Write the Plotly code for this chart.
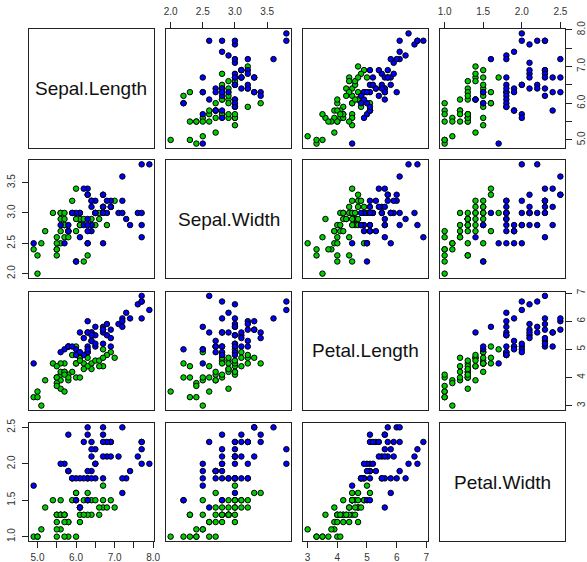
import plotly.graph_objects as go

var_names = ["Sepal.Length", "Sepal.Width", "Petal.Length", "Petal.Width"]

# Iris versicolor
vers_sl = [7.0,6.4,6.9,5.5,6.5,5.7,6.3,4.9,6.6,5.2,5.0,5.9,6.0,6.1,5.6,6.7,5.6,5.8,6.2,5.6,5.9,6.1,6.3,6.1,6.4,6.6,6.8,6.7,6.0,5.7,5.5,5.5,5.8,6.0,5.4,6.0,6.7,6.3,5.6,5.5,5.5,6.1,5.8,5.0,5.6,5.7,5.7,6.2,5.1,5.7]
vers_sw = [3.2,3.2,3.1,2.3,2.8,2.8,3.3,2.4,2.9,2.7,2.0,3.0,2.2,2.9,2.9,3.1,3.0,2.7,2.2,2.5,3.2,2.8,2.5,2.8,2.9,3.0,2.8,3.0,2.9,2.6,2.4,2.4,2.7,2.7,3.0,3.4,3.1,2.3,3.0,2.5,2.6,3.0,2.6,2.3,2.7,3.0,2.9,2.9,2.5,2.8]
vers_pl = [4.7,4.5,4.9,4.0,4.6,4.5,4.7,3.3,4.6,3.9,3.5,4.2,4.0,4.7,3.6,4.4,4.5,4.1,4.5,3.9,4.8,4.0,4.9,4.7,4.3,4.4,4.8,5.0,4.5,3.5,3.8,3.7,3.9,5.1,4.5,4.5,4.7,4.4,4.1,4.0,4.4,4.6,4.0,3.3,4.2,4.2,4.2,4.3,3.0,4.1]
vers_pw = [1.4,1.5,1.5,1.3,1.5,1.3,1.6,1.0,1.3,1.4,1.0,1.5,1.0,1.4,1.3,1.4,1.5,1.0,1.5,1.1,1.8,1.3,1.5,1.2,1.3,1.4,1.4,1.7,1.5,1.0,1.1,1.0,1.2,1.6,1.5,1.6,1.5,1.3,1.3,1.3,1.2,1.4,1.2,1.0,1.3,1.2,1.3,1.3,1.1,1.3]

# Iris virginica
virg_sl = [6.3,5.8,7.1,6.3,6.5,7.6,4.9,7.3,6.7,7.2,6.5,6.4,6.8,5.7,5.8,6.4,6.5,7.7,7.7,6.0,6.9,5.6,7.7,6.3,6.7,7.2,6.2,6.1,6.4,7.2,7.4,7.9,6.4,6.3,6.1,7.7,6.3,6.4,6.0,6.9,6.7,6.9,5.8,6.8,6.7,6.7,6.3,6.5,6.2,5.9]
virg_sw = [3.3,2.7,3.0,2.9,3.0,3.0,2.5,2.9,2.5,3.6,3.2,2.7,3.0,2.5,2.8,3.2,3.0,3.8,2.6,2.2,3.2,2.8,2.8,2.7,3.3,3.2,2.8,3.0,2.8,3.0,2.8,3.8,2.8,2.8,2.6,3.0,3.4,3.1,3.0,3.1,3.1,3.1,2.7,3.2,3.3,3.0,2.5,3.0,3.4,3.0]
virg_pl = [6.0,5.1,5.9,5.6,5.8,6.6,4.5,6.3,5.8,6.1,5.1,5.3,5.5,5.0,5.1,5.3,5.5,6.7,6.9,5.0,5.7,4.9,6.7,4.9,5.7,6.0,4.8,4.9,5.6,5.8,6.1,6.4,5.6,5.1,5.6,6.1,5.6,5.5,4.8,5.4,5.6,5.1,5.1,5.9,5.7,5.2,5.0,5.2,5.4,5.1]
virg_pw = [2.5,1.9,2.1,1.8,2.2,2.1,1.7,1.8,1.8,2.5,2.0,1.9,2.1,2.0,2.4,2.3,1.8,2.2,2.3,1.5,2.3,2.0,2.0,1.8,2.1,1.8,1.8,1.8,2.1,1.6,1.9,2.0,2.2,1.5,1.4,2.3,2.4,1.8,1.8,2.1,2.4,2.3,1.9,2.3,2.5,2.3,1.9,2.0,2.3,1.8]

tick_vals = [
    [5.0, 5.5, 6.0, 6.5, 7.0, 7.5, 8.0],
    [2.0, 2.5, 3.0, 3.5],
    [3, 4, 5, 6, 7],
    [1.0, 1.5, 2.0, 2.5],
]
tick_text = [
    ["5.0", "", "6.0", "", "7.0", "", "8.0"],
    ["2.0", "2.5", "3.0", "3.5"],
    ["3", "4", "5", "6", "7"],
    ["1.0", "1.5", "2.0", "2.5"],
]

green = "#00CD00"
blue = "#0000FF"

data = [vers_sl + virg_sl, vers_sw + virg_sw, vers_pl + virg_pl, vers_pw + virg_pw]
colors = [green] * len(vers_sl) + [blue] * len(virg_sl)

def rng(v):
    lo, hi = min(v), max(v)
    d = (hi - lo) * 0.04
    return [lo - d, hi + d]

ranges = [rng(v) for v in data]

W, H = 587, 562
cols_px = [(29, 154), (166, 291), (303, 428), (440, 565)]
rows_px = [(29, 148), (160, 278), (291.5, 410), (423, 541)]

top_x = {(0, 1), (0, 3)}
bottom_x = {(3, 0), (3, 2)}
left_y = {(1, 0), (3, 0)}
right_y = {(0, 3), (2, 3)}

tickfont = dict(family="Liberation Sans, Arial, sans-serif", size=10, color="#333333")

fig = go.Figure()
layout = dict(
    width=W, height=H,
    margin=dict(l=0, r=0, t=0, b=0, autoexpand=False),
    paper_bgcolor="white", plot_bgcolor="white",
    showlegend=False,
)
annotations = []

for r in range(4):
    for c in range(4):
        k = r * 4 + c + 1
        xa = "xaxis" if k == 1 else f"xaxis{k}"
        ya = "yaxis" if k == 1 else f"yaxis{k}"
        xref = "x" if k == 1 else f"x{k}"
        yref = "y" if k == 1 else f"y{k}"
        x0, x1 = cols_px[c]
        y0, y1 = rows_px[r]
        xd = [x0 / W, x1 / W]
        yd = [1 - y1 / H, 1 - y0 / H]

        common = dict(showgrid=False, zeroline=False, showline=True, mirror=True,
                      linecolor="#222222", linewidth=1, fixedrange=True, automargin=False)
        xaxis = dict(domain=xd, anchor=yref, range=ranges[c], **common)
        yaxis = dict(domain=yd, anchor=xref, range=ranges[r], **common)
        if (r, c) in top_x or (r, c) in bottom_x:
            xaxis.update(side="top" if (r, c) in top_x else "bottom",
                         tickmode="array", tickvals=tick_vals[c], ticktext=tick_text[c],
                         ticks="outside", ticklen=6, tickcolor="#222222", tickwidth=1,
                         showticklabels=True, tickfont=tickfont, tickangle=0,
                         ticklabelstandoff=3 if (r, c) in top_x else 1)
        else:
            xaxis.update(ticks="", showticklabels=False)
        if (r, c) in left_y or (r, c) in right_y:
            yaxis.update(side="left" if (r, c) in left_y else "right",
                         tickmode="array", tickvals=tick_vals[r], ticktext=tick_text[r],
                         ticks="outside", ticklen=6, tickcolor="#222222", tickwidth=1,
                         showticklabels=True, tickfont=tickfont, tickangle=-90,
                         ticklabelstandoff=3 if (r, c) in left_y else 1)
        else:
            yaxis.update(ticks="", showticklabels=False)
        layout[xa] = xaxis
        layout[ya] = yaxis

        if r == c:
            annotations.append(dict(
                x=(xd[0] + xd[1]) / 2, y=(yd[0] + yd[1]) / 2, xref="paper", yref="paper",
                text=var_names[r], showarrow=False,
                font=dict(family="Liberation Sans, Arial, sans-serif", size=19, color="#111111"),
                xanchor="center", yanchor="middle"))
            fig.add_trace(go.Scatter(x=[], y=[], xaxis=xref, yaxis=yref, mode="markers",
                                     hoverinfo="skip"))
        else:
            fig.add_trace(go.Scatter(
                x=data[c], y=data[r], xaxis=xref, yaxis=yref, mode="markers",
                marker=dict(size=5.5, color=colors, line=dict(color="black", width=1)),
                hoverinfo="skip", cliponaxis=False))

layout["annotations"] = annotations
fig.update_layout(**layout)
fig.write_html(
    "out.html",
    config={"displayModeBar": False},
    post_script="document.body.style.margin='0';document.body.style.padding='0';",
)
